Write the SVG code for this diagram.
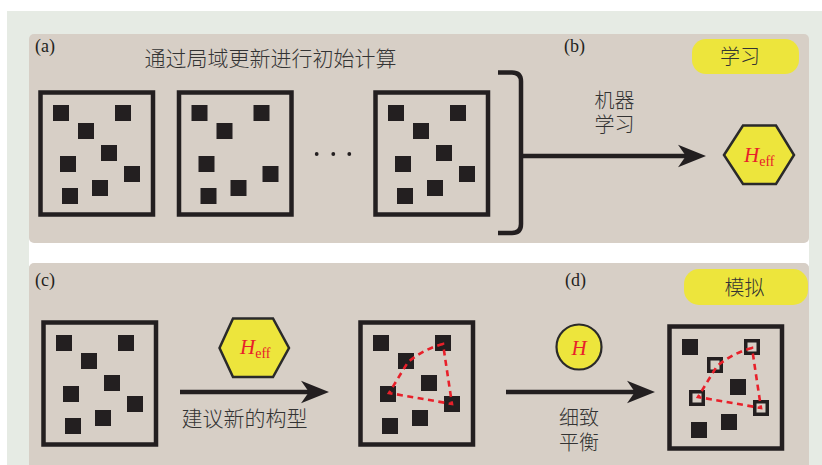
<svg xmlns="http://www.w3.org/2000/svg" width="822" height="465" viewBox="0 0 822 465">
<style>
.panel{fill:#d7cfc6}
.frame{fill:none;stroke:#231f20;stroke-width:4.5}
.sq{fill:#231f20}
.hol{fill:#d7cfc6;stroke:#231f20;stroke-width:3.5}
.dash{fill:none;stroke:#e8202a;stroke-width:2.6;stroke-dasharray:6 4.5}
.conn{fill:none;stroke:#231f20;stroke-width:4.5}
.lbl{font-family:"Liberation Serif",serif;font-size:18px;fill:#231f20}
.zh{font-family:"Noto Sans CJK SC",sans-serif;font-weight:300;fill:#333;text-anchor:middle;dominant-baseline:central}
.pill{fill:#ede53c}
.hex{fill:#ede53c;stroke:#2a2a2a;stroke-width:2.5}
.h{font-family:"Liberation Serif",serif;fill:#e8202a}
</style>
<defs>
<marker id="ah" markerUnits="userSpaceOnUse" markerWidth="28" markerHeight="24" viewBox="0 0 25 20" refX="8" refY="10" orient="auto">
<path d="M0,0 L25,10 L0,20 L7,10 Z" fill="#231f20"/>
</marker>
</defs>
<rect x="0" y="0" width="822" height="465" fill="#ffffff"/>
<rect x="7" y="11" width="815" height="454" fill="#e6ebe4"/>
<rect x="29" y="236" width="780" height="30" fill="#ffffff"/>
<rect class="panel" x="29" y="34" width="780" height="209" rx="5"/>
<rect class="panel" x="29" y="263" width="780" height="210" rx="5"/>

<text class="lbl" x="35" y="52">(a)</text>
<text class="lbl" x="564" y="52">(b)</text>
<text class="lbl" x="35" y="286">(c)</text>
<text class="lbl" x="565" y="286">(d)</text>
<text class="zh" x="270.5" y="57" font-size="21">通过局域更新进行初始计算</text>

<g id="box-a1">
<rect class="frame" x="40.5" y="92.5" width="112.5" height="122"/>
<rect class="sq" x="53" y="105" width="16" height="16"/><rect class="sq" x="115" y="105" width="16" height="16"/>
<rect class="sq" x="78" y="123" width="16" height="16"/><rect class="sq" x="101" y="145" width="16" height="16"/>
<rect class="sq" x="60" y="156" width="16" height="16"/><rect class="sq" x="124" y="166" width="16" height="16"/>
<rect class="sq" x="92" y="180" width="16" height="16"/><rect class="sq" x="62" y="188" width="16" height="16"/>
</g>
<g id="box-a2" transform="translate(138.5,0)">
<rect class="frame" x="40.5" y="92.5" width="112.5" height="122"/>
<rect class="sq" x="53" y="105" width="16" height="16"/><rect class="sq" x="115" y="105" width="16" height="16"/>
<rect class="sq" x="78" y="123" width="16" height="16"/>
<rect class="sq" x="60" y="156" width="16" height="16"/><rect class="sq" x="124" y="166" width="16" height="16"/>
<rect class="sq" x="92" y="180" width="16" height="16"/><rect class="sq" x="62" y="188" width="16" height="16"/>
</g>
<g id="dots" fill="#231f20">
<circle cx="316.7" cy="154" r="1.9"/><circle cx="333.3" cy="154" r="1.9"/><circle cx="349.3" cy="154" r="1.9"/>
</g>
<g id="box-a3" transform="translate(335,0)">
<rect class="frame" x="40.5" y="92.5" width="112.5" height="122"/>
<rect class="sq" x="53" y="105" width="16" height="16"/><rect class="sq" x="115" y="105" width="16" height="16"/>
<rect class="sq" x="78" y="123" width="16" height="16"/><rect class="sq" x="101" y="145" width="16" height="16"/>
<rect class="sq" x="60" y="156" width="16" height="16"/><rect class="sq" x="124" y="166" width="16" height="16"/>
<rect class="sq" x="92" y="180" width="16" height="16"/><rect class="sq" x="62" y="188" width="16" height="16"/>
</g>

<g id="label-learn">
<rect class="pill" x="692" y="39" width="107" height="35" rx="14"/>
<text class="zh" x="740" y="55" font-size="20">学习</text>
</g>
<g id="label-ml">
<text class="zh" x="614.5" y="99" font-size="20"><tspan x="614.5" y="99">机器</tspan><tspan x="614.5" y="123">学习</tspan></text>
</g>
<g id="hex-b">
<polygon class="hex" points="724,155 743,125.5 776,125.5 794,155 776,184 743,184"/>
<text class="h" x="744" y="162" font-size="21"><tspan font-style="italic">H</tspan><tspan font-size="14" dy="4">eff</tspan></text>
</g>

<g id="box-c1" transform="translate(3,230)">
<rect class="frame" x="40.5" y="92.5" width="112.5" height="122"/>
<rect class="sq" x="53" y="105" width="16" height="16"/><rect class="sq" x="115" y="105" width="16" height="16"/>
<rect class="sq" x="78" y="123" width="16" height="16"/><rect class="sq" x="101" y="145" width="16" height="16"/>
<rect class="sq" x="60" y="156" width="16" height="16"/><rect class="sq" x="124" y="166" width="16" height="16"/>
<rect class="sq" x="92" y="180" width="16" height="16"/><rect class="sq" x="62" y="188" width="16" height="16"/>
</g>
<g id="hex-c">
<polygon class="hex" points="219.5,348 233,318.5 273,318.5 289,348 273,377 233,377"/>
<text class="h" x="240" y="353.5" font-size="21"><tspan font-style="italic">H</tspan><tspan font-size="14" dy="4">eff</tspan></text>
</g>
<text class="zh" x="244.5" y="416.5" font-size="21">建议新的构型</text>
<g id="box-c2" transform="translate(320,230)">
<rect class="frame" x="40.5" y="92.5" width="112.5" height="122"/>
<rect class="sq" x="53" y="105" width="16" height="16"/><rect class="sq" x="115" y="105" width="16" height="16"/>
<rect class="sq" x="78" y="123" width="16" height="16"/><rect class="sq" x="101" y="145" width="16" height="16"/>
<rect class="sq" x="60" y="156" width="16" height="16"/><rect class="sq" x="124" y="166" width="16" height="16"/>
<rect class="sq" x="92" y="180" width="16" height="16"/><rect class="sq" x="62" y="188" width="16" height="16"/>
<path class="dash" d="M123,114 Q104,119 88,132 L69,163 L132,174 Z"/>
</g>
<g id="circle-h">
<circle cx="579" cy="347" r="22.5" fill="#ede53c" stroke="#2a2a2a" stroke-width="2.2"/>
<text class="h" x="579" y="354.5" font-size="21" font-style="italic" text-anchor="middle">H</text>
</g>
<text class="zh" x="579" y="416" font-size="20"><tspan x="579" y="416">细致</tspan><tspan x="579" y="441">平衡</tspan></text>
<g id="label-sim">
<rect class="pill" x="684" y="269" width="124" height="36" rx="15"/>
<text class="zh" x="744.5" y="286" font-size="20">模拟</text>
</g>
<g id="box-d" transform="translate(629,234)">
<rect class="frame" x="40.5" y="92.5" width="112.5" height="122"/>
<rect class="sq" x="53" y="105" width="16" height="16"/>
<rect class="hol" x="116.75" y="106.75" width="12.5" height="12.5"/>
<rect class="hol" x="79.75" y="124.75" width="12.5" height="12.5"/>
<rect class="sq" x="101" y="145" width="16" height="16"/>
<rect class="hol" x="61.75" y="157.75" width="12.5" height="12.5"/>
<rect class="hol" x="125.75" y="167.75" width="12.5" height="12.5"/>
<rect class="sq" x="92" y="180" width="16" height="16"/><rect class="sq" x="62" y="188" width="16" height="16"/>
<path class="dash" d="M123,114 Q104,119 88,132 L69,163 L132,174 Z"/>
</g>

<g id="connectors">
<path class="conn" d="M498,72.5 L512,72.5 Q521,72.5 521,81.5 L521,224 Q521,233 512,233 L498,233"/>
<line class="conn" x1="521" y1="156" x2="687" y2="156" marker-end="url(#ah)"/>
<line class="conn" x1="180" y1="392" x2="310" y2="392" marker-end="url(#ah)"/>
<line class="conn" x1="506" y1="392" x2="636" y2="392" marker-end="url(#ah)"/>
</g>
</svg>
